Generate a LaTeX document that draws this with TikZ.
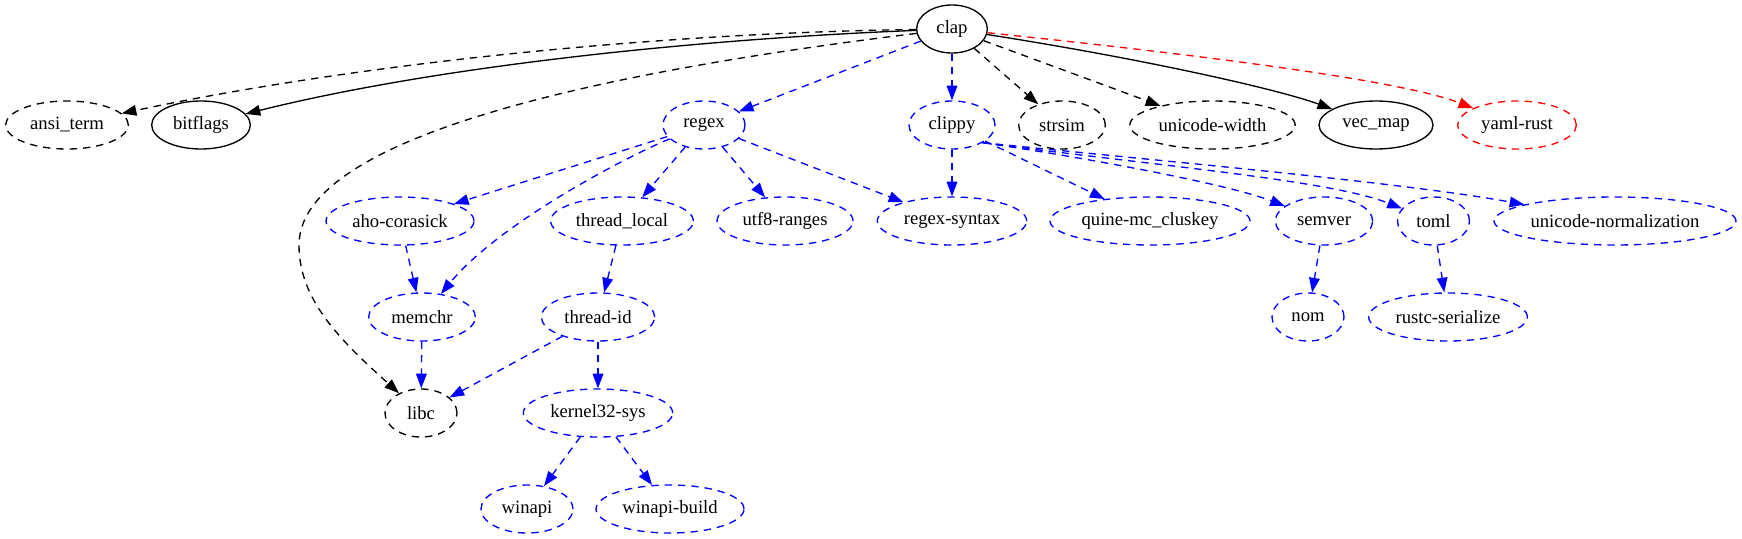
\documentclass[tikz,border=0pt]{standalone}
\usepackage{fontspec}
\setmainfont{Liberation Serif}
\usetikzlibrary{shapes.geometric,arrows.meta}
\definecolor{depblue}{rgb}{0,0,1}
\definecolor{depred}{rgb}{1,0,0}

\begin{document}
\begin{tikzpicture}[x=0.75pt,y=-0.75pt,
  crate/.style={ellipse,draw,line width=1pt,minimum height=36pt,inner sep=0pt,font=\fontsize{14}{16}\selectfont},
  optcrate/.style={crate,dash pattern=on 5.5pt off 4.5pt},
  bluecrate/.style={optcrate,draw=depblue},
  redcrate/.style={optcrate,draw=depred},
  dep/.style={-{Triangle[length=11pt,width=8pt]},line width=1pt},
  optdep/.style={dep,dash pattern=on 5.5pt off 4.5pt},
  bluedep/.style={optdep,depblue},
  reddep/.style={optdep,depred}]
\useasboundingbox (0,0) rectangle (1742,539);
\node[crate,minimum width=53pt] (clap) at (952,29) {clap};
  \node[optcrate,minimum width=92pt] (ansi) at (67,125) {ansi\_term};
  \node[crate,minimum width=74pt] (bitflags) at (201,125) {bitflags};
  \node[bluecrate,minimum width=61.5pt] (regex) at (704,125) {regex};
  \node[bluecrate,minimum width=64.5pt] (clippy) at (952,125) {clippy};
  \node[optcrate,minimum width=65pt] (strsim) at (1062,125) {strsim};
  \node[optcrate,minimum width=124pt] (uniwidth) at (1212.5,125) {unicode-width};
  \node[crate,minimum width=85.5pt] (vecmap) at (1376,125) {vec\_map};
  \node[redcrate,minimum width=89pt] (yaml) at (1517,125) {yaml-rust};
  \node[bluecrate,minimum width=111pt] (aho) at (400,221) {aho-corasick};
  \node[bluecrate,minimum width=107pt] (threadlocal) at (622,221) {thread\_local};
  \node[bluecrate,minimum width=102pt] (utf8) at (785,221) {utf8-ranges};
  \node[bluecrate,minimum width=112pt] (syntax) at (952,221) {regex-syntax};
  \node[bluecrate,minimum width=150pt] (quine) at (1150,221) {quine-mc\_cluskey};
  \node[bluecrate,minimum width=73pt] (semver) at (1324,221) {semver};
  \node[bluecrate,minimum width=54pt] (toml) at (1433.5,221) {toml};
  \node[bluecrate,minimum width=181.5pt] (uninorm) at (1615,221) {unicode-normalization};
  \node[bluecrate,minimum width=80pt] (memchr) at (422,317) {memchr};
  \node[bluecrate,minimum width=85pt] (threadid) at (598,317) {thread-id};
  \node[bluecrate,minimum width=54pt] (nom) at (1308,317) {nom};
  \node[bluecrate,minimum width=119pt] (rustcser) at (1448,317) {rustc-serialize};
  \node[optcrate,minimum width=54pt] (libc) at (421,413) {libc};
  \node[bluecrate,minimum width=112pt] (kernel) at (598,413) {kernel32-sys};
  \node[bluecrate,minimum width=69pt] (winapi) at (527,509) {winapi};
  \node[bluecrate,minimum width=111pt] (winapibuild) at (670,509) {winapi-build};
\draw[optdep] (clap) .. controls (650,33) and (350,65) .. (ansi);
\draw[dep] (clap) .. controls (720,38) and (450,63) .. (bitflags);
\draw[optdep] (clap) .. controls (700,60) and (299,120) .. (299,245) .. controls (299,300) and (340,340) .. (libc);
\draw[bluedep] (clap) -- (regex);
\draw[bluedep] (clap) -- (clippy);
\draw[optdep] (clap) -- (strsim);
\draw[optdep] (clap) -- (uniwidth);
\draw[dep] (clap) .. controls (1150,60) and (1280,90) .. (vecmap);
\draw[reddep] (clap) .. controls (1200,55) and (1400,80) .. (yaml);
\draw[bluedep] (regex) -- (aho);
\draw[bluedep] (regex) .. controls (630,155) and (500,222) .. (memchr);
\draw[bluedep] (regex) -- (threadlocal);
\draw[bluedep] (regex) -- (utf8);
\draw[bluedep] (regex) -- (syntax);
\draw[bluedep] (clippy) -- (syntax);
\draw[bluedep] (clippy) -- (quine);
\draw[bluedep] (clippy.-30) .. controls (1100,160) and (1230,185) .. (semver);
\draw[bluedep] (clippy.-30) .. controls (1150,165) and (1330,180) .. (toml);
\draw[bluedep] (clippy.-30) .. controls (1150,160) and (1400,182) .. (uninorm);
\draw[bluedep] (aho) -- (memchr);
\draw[bluedep] (threadlocal) -- (threadid);
\draw[bluedep] (memchr) -- (libc);
\draw[bluedep] (threadid) -- (libc);
\draw[bluedep] (threadid) -- (kernel);
\draw[bluedep] (kernel) -- (winapi);
\draw[bluedep] (kernel) -- (winapibuild);
\draw[bluedep] (semver) -- (nom);
\draw[bluedep] (toml) -- (rustcser);
\end{tikzpicture}
\end{document}
